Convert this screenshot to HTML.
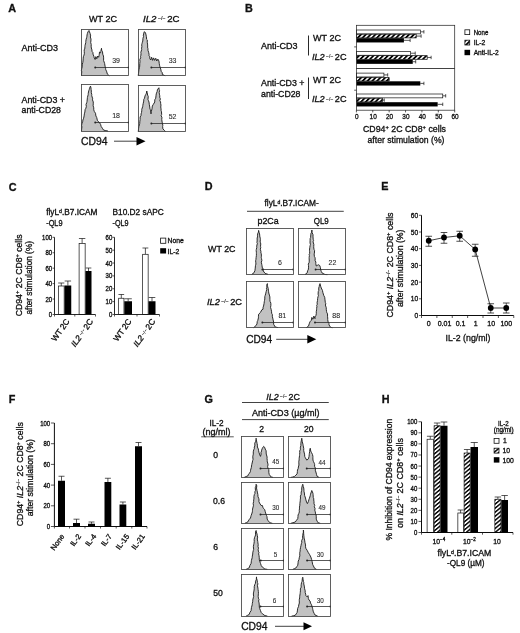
<!DOCTYPE html>
<html lang="en">
<head>
<meta charset="utf-8">
<title>Figure</title>
<style>
html,body{margin:0;padding:0;background:#fff;}
body{width:520px;height:633px;overflow:hidden;}
svg{display:block;filter:blur(0.35px);font-family:"Liberation Sans",Arial,Helvetica,sans-serif;}
svg text{fill:#111;stroke:#111;stroke-width:0.32px;}
</style>
</head>
<body>
<svg width="520" height="633" viewBox="0 0 520 633">
<defs>
<pattern id="hz" width="3.4" height="3.4" patternUnits="userSpaceOnUse" patternTransform="rotate(45)">
<rect width="3.4" height="3.4" fill="#fff"/>
<rect x="0" y="0" width="1.8" height="3.4" fill="#000"/>
</pattern>
<pattern id="hz2" width="3.1" height="3.1" patternUnits="userSpaceOnUse" patternTransform="rotate(50)">
<rect width="3.1" height="3.1" fill="#fff"/>
<rect x="0" y="0" width="1.45" height="3.1" fill="#000"/>
</pattern>
</defs>
<rect width="520" height="633" fill="#fff"/>
<text x="8.30" y="11.50" font-size="10.8" font-weight="bold" fill="#000">A</text>
<text x="89.00" y="22.00" font-size="9" textLength="28.00" lengthAdjust="spacingAndGlyphs">WT 2C</text>
<text x="143.00" y="22.00" font-size="9" textLength="36.50" lengthAdjust="spacingAndGlyphs"><tspan font-style="italic">IL2</tspan><tspan font-size="5.0" dy="-1.8" style="stroke-width:0.12px"> −/− </tspan><tspan dy="1.8">2C</tspan></text>
<text x="21.50" y="51.00" font-size="9" textLength="36.50" lengthAdjust="spacingAndGlyphs">Anti-CD3</text>
<text x="21.50" y="102.50" font-size="9" textLength="43.50" lengthAdjust="spacingAndGlyphs">Anti-CD3 +</text>
<text x="21.50" y="112.70" font-size="9" textLength="39.50" lengthAdjust="spacingAndGlyphs">anti-CD28</text>
<path d="M81.50,75.75 L81.56,73.94 L81.78,71.82 L81.39,70.42 L81.75,68.50 L82.30,66.31 L82.17,64.91 L82.76,62.63 L83.00,61.00 L83.17,58.89 L83.35,56.74 L83.76,55.96 L84.33,53.81 L84.25,51.62 L84.17,49.87 L84.73,49.02 L84.94,46.69 L85.02,45.51 L85.77,42.59 L85.75,41.62 L86.17,39.20 L86.64,37.74 L86.85,36.80 L87.04,34.97 L87.38,33.50 L87.96,31.87 L89.00,30.50 L89.22,31.22 L90.12,33.50 L90.66,35.92 L90.31,36.97 L91.01,39.08 L90.88,41.00 L90.69,42.63 L91.23,44.43 L91.16,46.19 L91.33,48.02 L91.75,49.12 L92.13,51.57 L92.87,52.41 L93.00,54.12 L93.86,56.29 L94.25,57.88 L95.12,59.50 L95.88,56.62 L96.75,58.75 L97.75,56.00 L98.62,57.25 L99.09,55.63 L99.27,54.26 L99.50,52.00 L100.50,52.88 L100.85,51.32 L101.50,48.25 L101.66,50.26 L102.50,51.62 L102.75,54.26 L103.46,55.98 L103.62,57.88 L103.58,60.55 L104.15,62.05 L104.62,63.50 L105.05,66.17 L105.59,68.36 L105.75,69.75 L106.52,71.18 L107.38,74.12 L109.25,75.75 Z" fill="#c2c2c2" stroke="none"/>
<path d="M81.50,75.75 L81.56,73.94 L81.78,71.82 L81.39,70.42 L81.75,68.50 L82.30,66.31 L82.17,64.91 L82.76,62.63 L83.00,61.00 L83.17,58.89 L83.35,56.74 L83.76,55.96 L84.33,53.81 L84.25,51.62 L84.17,49.87 L84.73,49.02 L84.94,46.69 L85.02,45.51 L85.77,42.59 L85.75,41.62 L86.17,39.20 L86.64,37.74 L86.85,36.80 L87.04,34.97 L87.38,33.50 L87.96,31.87 L89.00,30.50 L89.22,31.22 L90.12,33.50 L90.66,35.92 L90.31,36.97 L91.01,39.08 L90.88,41.00 L90.69,42.63 L91.23,44.43 L91.16,46.19 L91.33,48.02 L91.75,49.12 L92.13,51.57 L92.87,52.41 L93.00,54.12 L93.86,56.29 L94.25,57.88 L95.12,59.50 L95.88,56.62 L96.75,58.75 L97.75,56.00 L98.62,57.25 L99.09,55.63 L99.27,54.26 L99.50,52.00 L100.50,52.88 L100.85,51.32 L101.50,48.25 L101.66,50.26 L102.50,51.62 L102.75,54.26 L103.46,55.98 L103.62,57.88 L103.58,60.55 L104.15,62.05 L104.62,63.50 L105.05,66.17 L105.59,68.36 L105.75,69.75 L106.52,71.18 L107.38,74.12 L109.25,75.75" fill="none" stroke="#222" stroke-width="0.95" stroke-linejoin="round"/>
<rect x="81.50" y="29.50" width="47.00" height="46.00" fill="none" stroke="#444" stroke-width="0.85"/>
<line x1="95.25" y1="67.50" x2="128.60" y2="67.50" stroke="#222" stroke-width="0.75"/>
<circle cx="95.25" cy="67.50" r="1.0" fill="#222"/>
<line x1="128.30" y1="66.50" x2="128.30" y2="68.50" stroke="#222" stroke-width="0.6"/>
<text x="116.12" y="62.52" font-size="7" text-anchor="middle" style="fill:#2a2a2a;stroke-width:0.08px">39</text>
<path d="M138.25,75.75 L138.50,73.38 L138.75,71.00 L138.86,69.85 L139.51,67.39 L139.69,66.07 L139.75,63.50 L140.00,61.77 L139.82,59.44 L140.73,57.77 L140.50,56.55 L140.90,55.24 L141.00,53.50 L140.84,52.39 L141.70,49.49 L141.54,48.85 L141.86,46.54 L141.71,44.82 L142.06,43.42 L142.38,42.25 L142.78,41.04 L142.96,38.34 L143.57,36.36 L143.31,35.91 L143.91,32.70 L144.12,31.75 L145.38,32.50 L145.82,33.98 L146.38,36.62 L146.63,39.28 L147.29,39.92 L147.25,42.25 L147.54,44.05 L147.63,45.06 L147.64,47.98 L147.87,48.28 L148.01,50.46 L148.62,52.25 L149.06,54.31 L149.03,55.64 L149.83,56.80 L149.88,58.75 L150.75,60.00 L151.62,57.25 L152.21,59.01 L152.62,60.38 L153.62,57.88 L154.62,60.38 L155.75,58.25 L156.75,61.00 L157.88,59.12 L158.91,60.94 L159.25,63.50 L159.53,65.23 L160.08,67.24 L160.75,69.12 L161.18,71.36 L162.20,72.58 L162.38,74.50 L165.12,75.75 Z" fill="#c2c2c2" stroke="none"/>
<path d="M138.25,75.75 L138.50,73.38 L138.75,71.00 L138.86,69.85 L139.51,67.39 L139.69,66.07 L139.75,63.50 L140.00,61.77 L139.82,59.44 L140.73,57.77 L140.50,56.55 L140.90,55.24 L141.00,53.50 L140.84,52.39 L141.70,49.49 L141.54,48.85 L141.86,46.54 L141.71,44.82 L142.06,43.42 L142.38,42.25 L142.78,41.04 L142.96,38.34 L143.57,36.36 L143.31,35.91 L143.91,32.70 L144.12,31.75 L145.38,32.50 L145.82,33.98 L146.38,36.62 L146.63,39.28 L147.29,39.92 L147.25,42.25 L147.54,44.05 L147.63,45.06 L147.64,47.98 L147.87,48.28 L148.01,50.46 L148.62,52.25 L149.06,54.31 L149.03,55.64 L149.83,56.80 L149.88,58.75 L150.75,60.00 L151.62,57.25 L152.21,59.01 L152.62,60.38 L153.62,57.88 L154.62,60.38 L155.75,58.25 L156.75,61.00 L157.88,59.12 L158.91,60.94 L159.25,63.50 L159.53,65.23 L160.08,67.24 L160.75,69.12 L161.18,71.36 L162.20,72.58 L162.38,74.50 L165.12,75.75" fill="none" stroke="#222" stroke-width="0.95" stroke-linejoin="round"/>
<rect x="138.50" y="29.50" width="47.00" height="46.00" fill="none" stroke="#444" stroke-width="0.85"/>
<line x1="151.38" y1="67.50" x2="185.50" y2="67.50" stroke="#222" stroke-width="0.75"/>
<circle cx="151.38" cy="67.50" r="1.0" fill="#222"/>
<line x1="185.20" y1="66.50" x2="185.20" y2="68.50" stroke="#222" stroke-width="0.6"/>
<text x="172.62" y="62.52" font-size="7" text-anchor="middle" style="fill:#2a2a2a;stroke-width:0.08px">33</text>
<path d="M81.50,131.10 L81.62,129.16 L81.90,126.88 L81.58,125.33 L82.00,123.25 L82.78,121.26 L82.88,120.08 L83.62,118.25 L84.11,115.93 L84.37,113.85 L84.88,112.00 L85.10,109.62 L85.64,108.84 L86.33,106.68 L86.05,104.41 L86.75,102.62 L87.03,101.48 L87.29,98.94 L87.42,97.55 L88.22,94.42 L88.25,93.25 L88.76,90.79 L89.32,89.28 L89.50,88.25 L90.50,86.12 L90.94,87.86 L91.12,89.50 L91.32,91.02 L91.32,92.70 L91.75,94.50 L91.71,95.59 L92.69,98.80 L92.46,99.84 L93.27,101.95 L93.25,103.88 L93.14,105.75 L93.75,107.81 L93.76,109.81 L94.25,111.38 L95.50,113.25 L95.88,115.95 L96.75,117.62 L97.34,120.27 L98.00,121.38 L99.50,122.62 L100.60,124.45 L101.12,126.38 L102.38,128.25 L103.62,130.12 L105.81,130.62 L108.00,131.10 Z" fill="#c2c2c2" stroke="none"/>
<path d="M81.50,131.10 L81.62,129.16 L81.90,126.88 L81.58,125.33 L82.00,123.25 L82.78,121.26 L82.88,120.08 L83.62,118.25 L84.11,115.93 L84.37,113.85 L84.88,112.00 L85.10,109.62 L85.64,108.84 L86.33,106.68 L86.05,104.41 L86.75,102.62 L87.03,101.48 L87.29,98.94 L87.42,97.55 L88.22,94.42 L88.25,93.25 L88.76,90.79 L89.32,89.28 L89.50,88.25 L90.50,86.12 L90.94,87.86 L91.12,89.50 L91.32,91.02 L91.32,92.70 L91.75,94.50 L91.71,95.59 L92.69,98.80 L92.46,99.84 L93.27,101.95 L93.25,103.88 L93.14,105.75 L93.75,107.81 L93.76,109.81 L94.25,111.38 L95.50,113.25 L95.88,115.95 L96.75,117.62 L97.34,120.27 L98.00,121.38 L99.50,122.62 L100.60,124.45 L101.12,126.38 L102.38,128.25 L103.62,130.12 L105.81,130.62 L108.00,131.10" fill="none" stroke="#222" stroke-width="0.95" stroke-linejoin="round"/>
<rect x="81.50" y="84.50" width="47.00" height="47.00" fill="none" stroke="#444" stroke-width="0.85"/>
<line x1="95.25" y1="122.50" x2="128.60" y2="122.50" stroke="#222" stroke-width="0.75"/>
<circle cx="95.25" cy="122.50" r="1.0" fill="#222"/>
<line x1="128.30" y1="121.50" x2="128.30" y2="123.50" stroke="#222" stroke-width="0.6"/>
<text x="116.12" y="118.02" font-size="7" text-anchor="middle" style="fill:#2a2a2a;stroke-width:0.08px">18</text>
<path d="M138.25,131.70 L138.46,129.96 L138.52,128.89 L138.88,126.38 L139.45,124.80 L139.69,123.64 L139.86,121.16 L140.12,119.50 L140.10,117.03 L141.13,115.27 L141.02,113.97 L141.53,112.57 L141.75,110.75 L141.77,109.37 L142.81,106.21 L142.83,105.30 L143.25,103.25 L143.74,101.05 L143.81,99.27 L144.50,98.25 L145.00,95.93 L145.75,94.50 L146.36,93.29 L146.75,91.00 L147.19,92.66 L147.62,95.12 L148.24,96.36 L147.97,99.54 L148.50,100.75 L148.99,102.04 L149.28,104.34 L149.75,107.00 L150.03,109.50 L150.71,109.98 L150.74,112.29 L151.00,113.88 L151.26,111.69 L151.37,111.27 L152.00,108.88 L152.33,106.05 L153.25,104.50 L154.75,102.00 L154.78,99.79 L155.71,98.26 L156.00,95.75 L156.24,93.89 L157.19,91.42 L157.38,89.75 L158.88,87.75 L159.13,89.55 L159.57,90.58 L159.18,92.41 L159.40,94.14 L159.75,95.75 L159.78,97.80 L160.40,98.84 L159.81,100.79 L160.58,101.92 L160.67,103.66 L160.97,105.05 L160.75,107.00 L161.04,108.85 L161.09,110.54 L161.50,111.85 L161.64,114.61 L161.07,115.75 L161.93,117.19 L161.75,119.50 L162.11,122.12 L162.41,123.26 L162.82,125.30 L162.61,126.41 L162.88,128.88 L164.31,130.31 L165.75,131.70 Z" fill="#c2c2c2" stroke="none"/>
<path d="M138.25,131.70 L138.46,129.96 L138.52,128.89 L138.88,126.38 L139.45,124.80 L139.69,123.64 L139.86,121.16 L140.12,119.50 L140.10,117.03 L141.13,115.27 L141.02,113.97 L141.53,112.57 L141.75,110.75 L141.77,109.37 L142.81,106.21 L142.83,105.30 L143.25,103.25 L143.74,101.05 L143.81,99.27 L144.50,98.25 L145.00,95.93 L145.75,94.50 L146.36,93.29 L146.75,91.00 L147.19,92.66 L147.62,95.12 L148.24,96.36 L147.97,99.54 L148.50,100.75 L148.99,102.04 L149.28,104.34 L149.75,107.00 L150.03,109.50 L150.71,109.98 L150.74,112.29 L151.00,113.88 L151.26,111.69 L151.37,111.27 L152.00,108.88 L152.33,106.05 L153.25,104.50 L154.75,102.00 L154.78,99.79 L155.71,98.26 L156.00,95.75 L156.24,93.89 L157.19,91.42 L157.38,89.75 L158.88,87.75 L159.13,89.55 L159.57,90.58 L159.18,92.41 L159.40,94.14 L159.75,95.75 L159.78,97.80 L160.40,98.84 L159.81,100.79 L160.58,101.92 L160.67,103.66 L160.97,105.05 L160.75,107.00 L161.04,108.85 L161.09,110.54 L161.50,111.85 L161.64,114.61 L161.07,115.75 L161.93,117.19 L161.75,119.50 L162.11,122.12 L162.41,123.26 L162.82,125.30 L162.61,126.41 L162.88,128.88 L164.31,130.31 L165.75,131.70" fill="none" stroke="#222" stroke-width="0.95" stroke-linejoin="round"/>
<rect x="138.50" y="85.50" width="47.00" height="46.00" fill="none" stroke="#444" stroke-width="0.85"/>
<line x1="151.38" y1="123.50" x2="185.50" y2="123.50" stroke="#222" stroke-width="0.75"/>
<circle cx="151.38" cy="123.50" r="1.0" fill="#222"/>
<line x1="185.20" y1="122.50" x2="185.20" y2="124.50" stroke="#222" stroke-width="0.6"/>
<text x="172.62" y="118.52" font-size="7" text-anchor="middle" style="fill:#2a2a2a;stroke-width:0.08px">52</text>
<text x="81.00" y="145.00" font-size="10.8" textLength="26.50" lengthAdjust="spacingAndGlyphs">CD94</text>
<line x1="114.00" y1="141.20" x2="137.50" y2="141.20" stroke="#111" stroke-width="0.8"/>
<polygon points="136.50,136.90 145.50,141.20 136.50,145.50" fill="#000"/>
<text x="245.00" y="11.50" font-size="10.8" font-weight="bold" fill="#000">B</text>
<text x="261.00" y="49.00" font-size="9" textLength="36.50" lengthAdjust="spacingAndGlyphs">Anti-CD3</text>
<text x="261.00" y="85.50" font-size="9" textLength="43.50" lengthAdjust="spacingAndGlyphs">Anti-CD3 +</text>
<text x="261.00" y="97.00" font-size="9" textLength="39.50" lengthAdjust="spacingAndGlyphs">anti-CD28</text>
<line x1="308.50" y1="35.50" x2="308.50" y2="55.50" stroke="#111" stroke-width="0.9"/>
<line x1="308.50" y1="77.50" x2="308.50" y2="99.00" stroke="#111" stroke-width="0.9"/>
<text x="313.00" y="40.70" font-size="9" textLength="28.00" lengthAdjust="spacingAndGlyphs">WT 2C</text>
<text x="312.00" y="59.60" font-size="9" textLength="34.50" lengthAdjust="spacingAndGlyphs"><tspan font-style="italic">IL2</tspan><tspan font-size="5.0" dy="-1.8" style="stroke-width:0.12px"> −/− </tspan><tspan dy="1.8">2C</tspan></text>
<text x="313.00" y="83.20" font-size="9" textLength="28.00" lengthAdjust="spacingAndGlyphs">WT 2C</text>
<text x="312.00" y="102.30" font-size="9" textLength="34.50" lengthAdjust="spacingAndGlyphs"><tspan font-style="italic">IL2</tspan><tspan font-size="5.0" dy="-1.8" style="stroke-width:0.12px"> −/− </tspan><tspan dy="1.8">2C</tspan></text>
<line x1="420.62" y1="31.82" x2="423.90" y2="31.82" stroke="#111" stroke-width="0.7"/>
<line x1="423.90" y1="30.12" x2="423.90" y2="33.52" stroke="#111" stroke-width="0.7"/>
<rect x="356.40" y="30.00" width="64.22" height="3.85" fill="#fff" stroke="#111" stroke-width="0.7"/>
<line x1="416.20" y1="36.08" x2="421.11" y2="36.08" stroke="#111" stroke-width="0.7"/>
<line x1="421.11" y1="34.38" x2="421.11" y2="37.78" stroke="#111" stroke-width="0.7"/>
<rect x="356.40" y="34.25" width="59.80" height="3.65" fill="url(#hz)" stroke="#111" stroke-width="0.7"/>
<line x1="403.91" y1="40.33" x2="410.14" y2="40.33" stroke="#111" stroke-width="0.7"/>
<line x1="410.14" y1="38.62" x2="410.14" y2="42.03" stroke="#111" stroke-width="0.7"/>
<rect x="356.40" y="38.20" width="47.51" height="4.25" fill="#000" stroke="none" stroke-width="0.75"/>
<line x1="410.63" y1="53.23" x2="415.22" y2="53.23" stroke="#111" stroke-width="0.7"/>
<line x1="415.22" y1="51.52" x2="415.22" y2="54.93" stroke="#111" stroke-width="0.7"/>
<rect x="356.40" y="51.40" width="54.23" height="3.85" fill="#fff" stroke="#111" stroke-width="0.7"/>
<line x1="427.18" y1="57.48" x2="431.11" y2="57.48" stroke="#111" stroke-width="0.7"/>
<line x1="431.11" y1="55.77" x2="431.11" y2="59.18" stroke="#111" stroke-width="0.7"/>
<rect x="356.40" y="55.65" width="70.78" height="3.65" fill="url(#hz)" stroke="#111" stroke-width="0.7"/>
<line x1="412.76" y1="61.73" x2="415.71" y2="61.73" stroke="#111" stroke-width="0.7"/>
<line x1="415.71" y1="60.02" x2="415.71" y2="63.43" stroke="#111" stroke-width="0.7"/>
<rect x="356.40" y="59.60" width="56.36" height="4.25" fill="#000" stroke="none" stroke-width="0.75"/>
<line x1="383.92" y1="74.92" x2="387.69" y2="74.92" stroke="#111" stroke-width="0.7"/>
<line x1="387.69" y1="73.22" x2="387.69" y2="76.62" stroke="#111" stroke-width="0.7"/>
<rect x="356.40" y="73.10" width="27.52" height="3.85" fill="#fff" stroke="#111" stroke-width="0.7"/>
<line x1="388.84" y1="79.17" x2="389.17" y2="79.17" stroke="#111" stroke-width="0.7"/>
<line x1="389.17" y1="77.47" x2="389.17" y2="80.88" stroke="#111" stroke-width="0.7"/>
<rect x="356.40" y="77.35" width="32.44" height="3.65" fill="url(#hz)" stroke="#111" stroke-width="0.7"/>
<line x1="420.29" y1="83.42" x2="423.90" y2="83.42" stroke="#111" stroke-width="0.7"/>
<line x1="423.90" y1="81.72" x2="423.90" y2="85.12" stroke="#111" stroke-width="0.7"/>
<rect x="356.40" y="81.30" width="63.90" height="4.25" fill="#000" stroke="none" stroke-width="0.75"/>
<line x1="442.74" y1="95.83" x2="445.69" y2="95.83" stroke="#111" stroke-width="0.7"/>
<line x1="445.69" y1="94.12" x2="445.69" y2="97.53" stroke="#111" stroke-width="0.7"/>
<rect x="356.40" y="94.00" width="86.34" height="3.85" fill="#fff" stroke="#111" stroke-width="0.7"/>
<line x1="382.61" y1="100.08" x2="384.25" y2="100.08" stroke="#111" stroke-width="0.7"/>
<line x1="384.25" y1="98.38" x2="384.25" y2="101.78" stroke="#111" stroke-width="0.7"/>
<rect x="356.40" y="98.25" width="26.21" height="3.65" fill="url(#hz)" stroke="#111" stroke-width="0.7"/>
<line x1="437.66" y1="104.33" x2="442.74" y2="104.33" stroke="#111" stroke-width="0.7"/>
<line x1="442.74" y1="102.62" x2="442.74" y2="106.03" stroke="#111" stroke-width="0.7"/>
<rect x="356.40" y="102.20" width="81.26" height="4.25" fill="#000" stroke="none" stroke-width="0.75"/>
<rect x="356.40" y="25.30" width="98.30" height="84.90" fill="none" stroke="#2a2a2a" stroke-width="0.75"/>
<line x1="356.40" y1="68.50" x2="454.70" y2="68.50" stroke="#111" stroke-width="0.8"/>
<line x1="354.20" y1="46.90" x2="356.40" y2="46.90" stroke="#111" stroke-width="0.7"/>
<line x1="354.20" y1="90.20" x2="356.40" y2="90.20" stroke="#111" stroke-width="0.7"/>
<line x1="356.40" y1="110.20" x2="356.40" y2="112.40" stroke="#111" stroke-width="0.7"/>
<text x="356.80" y="119.20" font-size="7" text-anchor="middle" textLength="3.58" lengthAdjust="spacingAndGlyphs">0</text>
<line x1="372.78" y1="110.20" x2="372.78" y2="112.40" stroke="#111" stroke-width="0.7"/>
<text x="373.18" y="119.20" font-size="7" text-anchor="middle" textLength="7.16" lengthAdjust="spacingAndGlyphs">10</text>
<line x1="389.17" y1="110.20" x2="389.17" y2="112.40" stroke="#111" stroke-width="0.7"/>
<text x="389.57" y="119.20" font-size="7" text-anchor="middle" textLength="7.16" lengthAdjust="spacingAndGlyphs">20</text>
<line x1="405.55" y1="110.20" x2="405.55" y2="112.40" stroke="#111" stroke-width="0.7"/>
<text x="405.95" y="119.20" font-size="7" text-anchor="middle" textLength="7.16" lengthAdjust="spacingAndGlyphs">30</text>
<line x1="421.93" y1="110.20" x2="421.93" y2="112.40" stroke="#111" stroke-width="0.7"/>
<text x="422.33" y="119.20" font-size="7" text-anchor="middle" textLength="7.16" lengthAdjust="spacingAndGlyphs">40</text>
<line x1="438.32" y1="110.20" x2="438.32" y2="112.40" stroke="#111" stroke-width="0.7"/>
<text x="438.72" y="119.20" font-size="7" text-anchor="middle" textLength="7.16" lengthAdjust="spacingAndGlyphs">50</text>
<line x1="454.70" y1="110.20" x2="454.70" y2="112.40" stroke="#111" stroke-width="0.7"/>
<text x="455.10" y="119.20" font-size="7" text-anchor="middle" textLength="7.16" lengthAdjust="spacingAndGlyphs">60</text>
<text x="363.00" y="132.00" font-size="9.2" textLength="83.00" lengthAdjust="spacingAndGlyphs">CD94<tspan font-size="6" dy="-3">+</tspan><tspan dy="3"> 2C CD8</tspan><tspan font-size="6" dy="-3">+</tspan><tspan dy="3"> cells</tspan></text>
<text x="367.50" y="143.00" font-size="9.2" textLength="77.00" lengthAdjust="spacingAndGlyphs">after stimulation (%)</text>
<rect x="464.90" y="29.80" width="4.80" height="4.80" fill="#fff" stroke="#111" stroke-width="0.8"/>
<rect x="464.90" y="40.20" width="4.80" height="4.80" fill="url(#hz)" stroke="#111" stroke-width="0.8"/>
<rect x="464.50" y="49.80" width="5.60" height="5.40" fill="#000" stroke="none" stroke-width="0.75"/>
<text x="473.70" y="34.60" font-size="6.8" textLength="14.60" lengthAdjust="spacingAndGlyphs">None</text>
<text x="473.70" y="45.00" font-size="6.8">IL-2</text>
<text x="473.70" y="55.00" font-size="6.8" textLength="25.00" lengthAdjust="spacingAndGlyphs">Anti-IL-2</text>
<text x="8.70" y="190.50" font-size="10.8" font-weight="bold" fill="#000">C</text>
<text x="46.20" y="215.20" font-size="8.3" textLength="51.20" lengthAdjust="spacingAndGlyphs">flyL<tspan font-size="5.2" dy="-2.2">d</tspan><tspan dy="2.2">.B7.ICAM</tspan></text>
<text x="46.20" y="226.00" font-size="8.3" textLength="16.30" lengthAdjust="spacingAndGlyphs">-QL9</text>
<text x="112.50" y="215.20" font-size="8.3" textLength="51.20" lengthAdjust="spacingAndGlyphs">B10.D2 sAPC</text>
<text x="112.50" y="226.00" font-size="8.3" textLength="16.00" lengthAdjust="spacingAndGlyphs">-QL9</text>
<text x="22.20" y="316.20" font-size="9.2" textLength="81.70" lengthAdjust="spacingAndGlyphs" transform="rotate(-90 22.20 316.20)">CD94<tspan font-size="6" dy="-3">+</tspan><tspan dy="3"> 2C CD8</tspan><tspan font-size="6" dy="-3">+</tspan><tspan dy="3"> cells</tspan></text>
<text x="32.20" y="314.50" font-size="9.2" textLength="73.50" lengthAdjust="spacingAndGlyphs" transform="rotate(-90 32.20 314.50)">after stimulation (%)</text>
<line x1="52.50" y1="314.50" x2="54.50" y2="314.50" stroke="#111" stroke-width="0.7"/>
<text x="52.10" y="317.00" font-size="6.7" text-anchor="end" textLength="3.35" lengthAdjust="spacingAndGlyphs">0</text>
<line x1="52.50" y1="299.06" x2="54.50" y2="299.06" stroke="#111" stroke-width="0.7"/>
<text x="52.10" y="301.56" font-size="6.7" text-anchor="end" textLength="6.71" lengthAdjust="spacingAndGlyphs">20</text>
<line x1="52.50" y1="283.62" x2="54.50" y2="283.62" stroke="#111" stroke-width="0.7"/>
<text x="52.10" y="286.12" font-size="6.7" text-anchor="end" textLength="6.71" lengthAdjust="spacingAndGlyphs">40</text>
<line x1="52.50" y1="268.18" x2="54.50" y2="268.18" stroke="#111" stroke-width="0.7"/>
<text x="52.10" y="270.68" font-size="6.7" text-anchor="end" textLength="6.71" lengthAdjust="spacingAndGlyphs">60</text>
<line x1="52.50" y1="252.74" x2="54.50" y2="252.74" stroke="#111" stroke-width="0.7"/>
<text x="52.10" y="255.24" font-size="6.7" text-anchor="end" textLength="6.71" lengthAdjust="spacingAndGlyphs">80</text>
<line x1="52.50" y1="237.30" x2="54.50" y2="237.30" stroke="#111" stroke-width="0.7"/>
<text x="52.10" y="239.80" font-size="6.7" text-anchor="end" textLength="10.06" lengthAdjust="spacingAndGlyphs">100</text>
<line x1="61.25" y1="286.00" x2="61.25" y2="283.00" stroke="#111" stroke-width="0.7"/>
<line x1="58.16" y1="283.00" x2="64.34" y2="283.00" stroke="#111" stroke-width="0.7"/>
<rect x="58.35" y="286.00" width="5.80" height="28.50" fill="#fff" stroke="#111" stroke-width="0.7"/>
<line x1="67.88" y1="285.50" x2="67.88" y2="281.00" stroke="#111" stroke-width="0.7"/>
<line x1="64.67" y1="281.00" x2="71.08" y2="281.00" stroke="#111" stroke-width="0.7"/>
<rect x="64.50" y="285.50" width="6.75" height="29.00" fill="#000" stroke="none" stroke-width="0.75"/>
<line x1="82.12" y1="243.50" x2="82.12" y2="238.50" stroke="#111" stroke-width="0.7"/>
<line x1="78.92" y1="238.50" x2="85.33" y2="238.50" stroke="#111" stroke-width="0.7"/>
<rect x="79.10" y="243.50" width="6.05" height="71.00" fill="#fff" stroke="#111" stroke-width="0.7"/>
<line x1="88.50" y1="271.00" x2="88.50" y2="268.00" stroke="#111" stroke-width="0.7"/>
<line x1="85.65" y1="268.00" x2="91.35" y2="268.00" stroke="#111" stroke-width="0.7"/>
<rect x="85.50" y="271.00" width="6.00" height="43.50" fill="#000" stroke="none" stroke-width="0.75"/>
<line x1="54.50" y1="237.30" x2="54.50" y2="314.50" stroke="#111" stroke-width="0.9"/>
<line x1="54.50" y1="314.50" x2="95.50" y2="314.50" stroke="#111" stroke-width="0.9"/>
<line x1="54.50" y1="314.50" x2="54.50" y2="316.50" stroke="#111" stroke-width="0.7"/>
<line x1="74.80" y1="314.50" x2="74.80" y2="316.50" stroke="#111" stroke-width="0.7"/>
<line x1="95.50" y1="314.50" x2="95.50" y2="316.50" stroke="#111" stroke-width="0.7"/>
<text x="70.00" y="321.30" font-size="8.2" text-anchor="end" transform="rotate(-55 70.00 321.30)">WT 2C</text>
<text x="93.60" y="321.30" font-size="8.2" text-anchor="end" textLength="32.00" lengthAdjust="spacingAndGlyphs" transform="rotate(-55 93.60 321.30)"><tspan font-style="italic">IL2</tspan><tspan font-size="4.6" dy="-1.6" style="stroke-width:0.12px"> −/− </tspan><tspan dy="1.6">2C</tspan></text>
<line x1="112.50" y1="314.50" x2="114.50" y2="314.50" stroke="#111" stroke-width="0.7"/>
<text x="112.30" y="317.00" font-size="6.7" text-anchor="end" textLength="3.35" lengthAdjust="spacingAndGlyphs">0</text>
<line x1="112.50" y1="301.63" x2="114.50" y2="301.63" stroke="#111" stroke-width="0.7"/>
<text x="112.30" y="304.13" font-size="6.7" text-anchor="end" textLength="6.71" lengthAdjust="spacingAndGlyphs">10</text>
<line x1="112.50" y1="288.77" x2="114.50" y2="288.77" stroke="#111" stroke-width="0.7"/>
<text x="112.30" y="291.27" font-size="6.7" text-anchor="end" textLength="6.71" lengthAdjust="spacingAndGlyphs">20</text>
<line x1="112.50" y1="275.90" x2="114.50" y2="275.90" stroke="#111" stroke-width="0.7"/>
<text x="112.30" y="278.40" font-size="6.7" text-anchor="end" textLength="6.71" lengthAdjust="spacingAndGlyphs">30</text>
<line x1="112.50" y1="263.03" x2="114.50" y2="263.03" stroke="#111" stroke-width="0.7"/>
<text x="112.30" y="265.53" font-size="6.7" text-anchor="end" textLength="6.71" lengthAdjust="spacingAndGlyphs">40</text>
<line x1="112.50" y1="250.17" x2="114.50" y2="250.17" stroke="#111" stroke-width="0.7"/>
<text x="112.30" y="252.67" font-size="6.7" text-anchor="end" textLength="6.71" lengthAdjust="spacingAndGlyphs">50</text>
<line x1="112.50" y1="237.30" x2="114.50" y2="237.30" stroke="#111" stroke-width="0.7"/>
<text x="112.30" y="239.80" font-size="6.7" text-anchor="end" textLength="6.71" lengthAdjust="spacingAndGlyphs">60</text>
<line x1="121.30" y1="298.25" x2="121.30" y2="294.50" stroke="#111" stroke-width="0.7"/>
<line x1="118.45" y1="294.50" x2="124.15" y2="294.50" stroke="#111" stroke-width="0.7"/>
<rect x="118.65" y="298.25" width="5.30" height="16.25" fill="#fff" stroke="#111" stroke-width="0.7"/>
<line x1="128.15" y1="301.25" x2="128.15" y2="298.75" stroke="#111" stroke-width="0.7"/>
<line x1="124.49" y1="298.75" x2="131.81" y2="298.75" stroke="#111" stroke-width="0.7"/>
<rect x="124.30" y="301.25" width="7.70" height="13.25" fill="#000" stroke="none" stroke-width="0.75"/>
<line x1="145.40" y1="254.30" x2="145.40" y2="248.00" stroke="#111" stroke-width="0.7"/>
<line x1="142.46" y1="248.00" x2="148.34" y2="248.00" stroke="#111" stroke-width="0.7"/>
<rect x="142.65" y="254.30" width="5.50" height="60.20" fill="#fff" stroke="#111" stroke-width="0.7"/>
<line x1="152.00" y1="301.25" x2="152.00" y2="297.50" stroke="#111" stroke-width="0.7"/>
<line x1="148.68" y1="297.50" x2="155.32" y2="297.50" stroke="#111" stroke-width="0.7"/>
<rect x="148.50" y="301.25" width="7.00" height="13.25" fill="#000" stroke="none" stroke-width="0.75"/>
<line x1="114.50" y1="237.30" x2="114.50" y2="314.50" stroke="#111" stroke-width="0.9"/>
<line x1="114.50" y1="314.50" x2="159.50" y2="314.50" stroke="#111" stroke-width="0.9"/>
<line x1="114.50" y1="314.50" x2="114.50" y2="316.50" stroke="#111" stroke-width="0.7"/>
<line x1="137.00" y1="314.50" x2="137.00" y2="316.50" stroke="#111" stroke-width="0.7"/>
<line x1="159.50" y1="314.50" x2="159.50" y2="316.50" stroke="#111" stroke-width="0.7"/>
<text x="132.00" y="321.30" font-size="8.2" text-anchor="end" transform="rotate(-55 132.00 321.30)">WT 2C</text>
<text x="155.80" y="321.30" font-size="8.2" text-anchor="end" textLength="32.00" lengthAdjust="spacingAndGlyphs" transform="rotate(-55 155.80 321.30)"><tspan font-style="italic">IL2</tspan><tspan font-size="4.6" dy="-1.6" style="stroke-width:0.12px"> −/− </tspan><tspan dy="1.6">2C</tspan></text>
<rect x="160.60" y="238.10" width="5.20" height="5.20" fill="#fff" stroke="#111" stroke-width="0.8"/>
<rect x="160.20" y="248.20" width="5.90" height="5.30" fill="#000" stroke="none" stroke-width="0.75"/>
<text x="167.50" y="243.20" font-size="6.8">None</text>
<text x="167.50" y="253.80" font-size="6.8">IL-2</text>
<text x="204.80" y="190.30" font-size="10.8" font-weight="bold" fill="#000">D</text>
<text x="264.50" y="206.00" font-size="8.6" textLength="54.20" lengthAdjust="spacingAndGlyphs">flyL<tspan font-size="5.2" dy="-2.2">d</tspan><tspan dy="2.2">.B7.ICAM-</tspan></text>
<line x1="247.00" y1="211.30" x2="343.75" y2="211.30" stroke="#111" stroke-width="0.8"/>
<text x="257.50" y="223.80" font-size="8.8" textLength="21.20" lengthAdjust="spacingAndGlyphs">p2Ca</text>
<text x="313.75" y="223.80" font-size="8.8" textLength="15.00" lengthAdjust="spacingAndGlyphs">QL9</text>
<text x="208.00" y="251.60" font-size="9" textLength="27.50" lengthAdjust="spacingAndGlyphs">WT 2C</text>
<text x="207.00" y="305.00" font-size="9" textLength="35.00" lengthAdjust="spacingAndGlyphs"><tspan font-style="italic">IL2</tspan><tspan font-size="5.0" dy="-1.8" style="stroke-width:0.12px"> −/− </tspan><tspan dy="1.8">2C</tspan></text>
<path d="M251.75,274.38 L254.00,272.75 L254.94,270.47 L255.25,268.12 L255.44,265.71 L255.93,264.04 L255.80,262.76 L255.63,260.75 L255.92,259.61 L256.12,257.50 L256.40,255.37 L256.40,253.69 L256.41,252.72 L256.18,250.58 L256.34,249.39 L256.75,247.50 L256.71,246.14 L257.38,243.19 L256.93,242.52 L257.17,240.97 L257.15,238.03 L257.50,236.88 L257.47,235.28 L257.80,233.23 L258.45,232.15 L258.62,230.38 L259.18,232.66 L259.75,235.00 L259.69,235.99 L260.36,238.66 L260.38,239.40 L260.10,242.21 L260.48,242.42 L260.75,244.03 L260.50,246.25 L260.77,247.27 L260.35,249.25 L260.96,251.69 L260.83,252.98 L261.29,253.72 L261.40,256.22 L261.25,257.50 L261.52,258.45 L261.87,260.54 L261.31,262.20 L261.74,264.30 L262.00,265.62 L262.30,267.84 L263.12,268.47 L263.25,271.00 L265.12,273.38 L268.00,274.38 Z" fill="#c2c2c2" stroke="none"/>
<path d="M251.75,274.38 L254.00,272.75 L254.94,270.47 L255.25,268.12 L255.44,265.71 L255.93,264.04 L255.80,262.76 L255.63,260.75 L255.92,259.61 L256.12,257.50 L256.40,255.37 L256.40,253.69 L256.41,252.72 L256.18,250.58 L256.34,249.39 L256.75,247.50 L256.71,246.14 L257.38,243.19 L256.93,242.52 L257.17,240.97 L257.15,238.03 L257.50,236.88 L257.47,235.28 L257.80,233.23 L258.45,232.15 L258.62,230.38 L259.18,232.66 L259.75,235.00 L259.69,235.99 L260.36,238.66 L260.38,239.40 L260.10,242.21 L260.48,242.42 L260.75,244.03 L260.50,246.25 L260.77,247.27 L260.35,249.25 L260.96,251.69 L260.83,252.98 L261.29,253.72 L261.40,256.22 L261.25,257.50 L261.52,258.45 L261.87,260.54 L261.31,262.20 L261.74,264.30 L262.00,265.62 L262.30,267.84 L263.12,268.47 L263.25,271.00 L265.12,273.38 L268.00,274.38" fill="none" stroke="#222" stroke-width="0.95" stroke-linejoin="round"/>
<rect x="246.50" y="228.50" width="47.00" height="46.00" fill="none" stroke="#444" stroke-width="0.85"/>
<line x1="262.38" y1="269.50" x2="293.20" y2="269.50" stroke="#222" stroke-width="0.75"/>
<circle cx="262.38" cy="269.50" r="1.0" fill="#222"/>
<line x1="292.90" y1="268.50" x2="292.90" y2="270.50" stroke="#222" stroke-width="0.6"/>
<text x="279.88" y="264.77" font-size="7" text-anchor="middle" style="fill:#2a2a2a;stroke-width:0.08px">6</text>
<path d="M305.00,274.60 L307.25,272.75 L307.54,270.84 L308.21,269.98 L308.54,267.82 L308.50,265.62 L308.27,264.08 L309.05,262.72 L309.25,261.11 L309.17,258.89 L309.15,257.61 L309.40,255.45 L309.06,254.84 L309.68,253.33 L309.62,251.25 L309.48,250.32 L309.79,247.43 L310.14,245.52 L310.44,244.60 L310.04,242.99 L310.08,240.38 L310.16,238.49 L310.62,237.50 L310.81,234.91 L311.04,233.11 L311.59,232.29 L311.88,230.00 L312.04,231.90 L312.14,232.64 L313.03,234.73 L313.00,236.88 L313.19,239.28 L313.59,240.58 L313.06,241.79 L313.83,244.40 L313.74,246.36 L313.66,247.00 L314.00,249.38 L314.55,250.38 L314.43,253.11 L314.12,253.97 L314.42,256.56 L315.10,257.77 L315.16,258.87 L315.12,260.62 L315.88,262.06 L315.76,263.56 L316.25,266.00 L317.50,265.25 L318.75,264.75 L319.75,265.62 L320.33,267.30 L320.75,270.00 L321.32,271.53 L322.25,273.12 L325.00,274.50 L327.50,274.60 Z" fill="#c2c2c2" stroke="none"/>
<path d="M305.00,274.60 L307.25,272.75 L307.54,270.84 L308.21,269.98 L308.54,267.82 L308.50,265.62 L308.27,264.08 L309.05,262.72 L309.25,261.11 L309.17,258.89 L309.15,257.61 L309.40,255.45 L309.06,254.84 L309.68,253.33 L309.62,251.25 L309.48,250.32 L309.79,247.43 L310.14,245.52 L310.44,244.60 L310.04,242.99 L310.08,240.38 L310.16,238.49 L310.62,237.50 L310.81,234.91 L311.04,233.11 L311.59,232.29 L311.88,230.00 L312.04,231.90 L312.14,232.64 L313.03,234.73 L313.00,236.88 L313.19,239.28 L313.59,240.58 L313.06,241.79 L313.83,244.40 L313.74,246.36 L313.66,247.00 L314.00,249.38 L314.55,250.38 L314.43,253.11 L314.12,253.97 L314.42,256.56 L315.10,257.77 L315.16,258.87 L315.12,260.62 L315.88,262.06 L315.76,263.56 L316.25,266.00 L317.50,265.25 L318.75,264.75 L319.75,265.62 L320.33,267.30 L320.75,270.00 L321.32,271.53 L322.25,273.12 L325.00,274.50 L327.50,274.60" fill="none" stroke="#222" stroke-width="0.95" stroke-linejoin="round"/>
<rect x="298.50" y="228.50" width="47.00" height="46.00" fill="none" stroke="#444" stroke-width="0.85"/>
<line x1="315.62" y1="269.50" x2="345.50" y2="269.50" stroke="#222" stroke-width="0.75"/>
<circle cx="315.62" cy="269.50" r="1.0" fill="#222"/>
<line x1="345.20" y1="268.50" x2="345.20" y2="270.50" stroke="#222" stroke-width="0.6"/>
<text x="332.50" y="264.77" font-size="7" text-anchor="middle" style="fill:#2a2a2a;stroke-width:0.08px">22</text>
<path d="M253.62,327.60 L254.88,326.56 L256.12,325.50 L256.98,323.86 L257.26,321.52 L257.75,320.50 L258.43,317.87 L258.44,316.28 L258.62,314.25 L260.50,312.38 L261.75,309.88 L263.00,309.25 L263.10,307.20 L263.54,306.09 L264.07,303.53 L264.27,301.77 L264.50,300.50 L264.80,298.97 L264.79,296.75 L265.17,295.47 L265.64,293.91 L266.12,291.75 L266.76,289.36 L266.43,288.83 L266.79,287.43 L266.90,284.64 L267.38,283.62 L267.32,285.28 L267.62,286.48 L268.23,288.65 L268.37,290.10 L268.62,291.75 L268.77,293.01 L269.64,295.95 L269.87,296.95 L269.88,299.25 L270.01,301.70 L270.48,301.97 L270.86,303.64 L270.87,305.33 L270.55,307.37 L271.12,309.25 L271.58,311.75 L271.65,313.30 L272.31,314.30 L272.38,316.75 L272.94,318.96 L273.12,319.83 L273.63,322.17 L273.62,324.25 L275.25,327.00 L278.00,327.60 Z" fill="#c2c2c2" stroke="none"/>
<path d="M253.62,327.60 L254.88,326.56 L256.12,325.50 L256.98,323.86 L257.26,321.52 L257.75,320.50 L258.43,317.87 L258.44,316.28 L258.62,314.25 L260.50,312.38 L261.75,309.88 L263.00,309.25 L263.10,307.20 L263.54,306.09 L264.07,303.53 L264.27,301.77 L264.50,300.50 L264.80,298.97 L264.79,296.75 L265.17,295.47 L265.64,293.91 L266.12,291.75 L266.76,289.36 L266.43,288.83 L266.79,287.43 L266.90,284.64 L267.38,283.62 L267.32,285.28 L267.62,286.48 L268.23,288.65 L268.37,290.10 L268.62,291.75 L268.77,293.01 L269.64,295.95 L269.87,296.95 L269.88,299.25 L270.01,301.70 L270.48,301.97 L270.86,303.64 L270.87,305.33 L270.55,307.37 L271.12,309.25 L271.58,311.75 L271.65,313.30 L272.31,314.30 L272.38,316.75 L272.94,318.96 L273.12,319.83 L273.63,322.17 L273.62,324.25 L275.25,327.00 L278.00,327.60" fill="none" stroke="#222" stroke-width="0.95" stroke-linejoin="round"/>
<rect x="246.50" y="281.50" width="47.00" height="46.00" fill="none" stroke="#444" stroke-width="0.85"/>
<line x1="262.38" y1="322.50" x2="293.20" y2="322.50" stroke="#222" stroke-width="0.75"/>
<circle cx="262.38" cy="322.50" r="1.0" fill="#222"/>
<line x1="292.90" y1="321.50" x2="292.90" y2="323.50" stroke="#222" stroke-width="0.6"/>
<text x="282.38" y="317.77" font-size="7" text-anchor="middle" style="fill:#2a2a2a;stroke-width:0.08px">81</text>
<path d="M306.25,327.70 L308.50,326.12 L309.23,323.81 L310.00,321.75 L311.27,320.35 L311.88,317.38 L312.75,319.25 L313.61,318.10 L313.75,316.12 L315.00,318.62 L314.96,316.96 L315.92,315.48 L316.31,313.75 L316.25,311.75 L316.60,309.80 L316.63,308.50 L316.94,306.34 L316.64,305.72 L317.32,304.20 L317.05,302.89 L317.50,300.50 L317.63,298.45 L318.06,296.59 L318.44,295.73 L318.12,294.17 L318.25,291.61 L318.75,290.50 L318.72,288.06 L319.25,286.35 L319.48,284.70 L320.00,283.62 L320.65,286.22 L321.25,288.00 L322.50,290.50 L322.80,292.34 L323.04,293.04 L323.75,295.50 L324.69,297.27 L325.00,299.88 L325.29,302.37 L325.80,303.76 L325.38,305.06 L326.26,307.75 L326.25,309.25 L326.57,311.56 L326.65,312.16 L327.54,313.90 L327.56,316.77 L327.75,318.00 L327.70,319.49 L328.15,322.19 L328.99,323.52 L329.00,324.88 L330.62,327.38 L332.50,327.70 Z" fill="#c2c2c2" stroke="none"/>
<path d="M306.25,327.70 L308.50,326.12 L309.23,323.81 L310.00,321.75 L311.27,320.35 L311.88,317.38 L312.75,319.25 L313.61,318.10 L313.75,316.12 L315.00,318.62 L314.96,316.96 L315.92,315.48 L316.31,313.75 L316.25,311.75 L316.60,309.80 L316.63,308.50 L316.94,306.34 L316.64,305.72 L317.32,304.20 L317.05,302.89 L317.50,300.50 L317.63,298.45 L318.06,296.59 L318.44,295.73 L318.12,294.17 L318.25,291.61 L318.75,290.50 L318.72,288.06 L319.25,286.35 L319.48,284.70 L320.00,283.62 L320.65,286.22 L321.25,288.00 L322.50,290.50 L322.80,292.34 L323.04,293.04 L323.75,295.50 L324.69,297.27 L325.00,299.88 L325.29,302.37 L325.80,303.76 L325.38,305.06 L326.26,307.75 L326.25,309.25 L326.57,311.56 L326.65,312.16 L327.54,313.90 L327.56,316.77 L327.75,318.00 L327.70,319.49 L328.15,322.19 L328.99,323.52 L329.00,324.88 L330.62,327.38 L332.50,327.70" fill="none" stroke="#222" stroke-width="0.95" stroke-linejoin="round"/>
<rect x="298.50" y="281.50" width="47.00" height="46.00" fill="none" stroke="#444" stroke-width="0.85"/>
<line x1="315.00" y1="322.50" x2="345.50" y2="322.50" stroke="#222" stroke-width="0.75"/>
<circle cx="315.00" cy="322.50" r="1.0" fill="#222"/>
<line x1="345.20" y1="321.50" x2="345.20" y2="323.50" stroke="#222" stroke-width="0.6"/>
<text x="336.25" y="317.77" font-size="7" text-anchor="middle" style="fill:#2a2a2a;stroke-width:0.08px">88</text>
<text x="246.20" y="343.00" font-size="10.8" textLength="26.00" lengthAdjust="spacingAndGlyphs">CD94</text>
<line x1="276.20" y1="339.30" x2="308.30" y2="339.30" stroke="#111" stroke-width="0.8"/>
<polygon points="307.30,335.00 316.30,339.30 307.30,343.60" fill="#000"/>
<text x="381.20" y="190.30" font-size="10.8" font-weight="bold" fill="#000">E</text>
<text x="392.60" y="317.50" font-size="9.2" textLength="105.00" lengthAdjust="spacingAndGlyphs" transform="rotate(-90 392.60 317.50)">CD94<tspan font-size="6" dy="-3">+</tspan><tspan dy="3" font-style="italic"> IL2</tspan><tspan font-size="5.2" dy="-3" style="stroke-width:0.12px">−/−</tspan><tspan dy="3"> 2C CD8</tspan><tspan font-size="6" dy="-3">+</tspan><tspan dy="3"> cells</tspan></text>
<text x="402.80" y="307.00" font-size="9.2" textLength="77.50" lengthAdjust="spacingAndGlyphs" transform="rotate(-90 402.80 307.00)">after stimulation (%)</text>
<line x1="419.00" y1="315.50" x2="421.50" y2="315.50" stroke="#111" stroke-width="0.7"/>
<text x="418.20" y="318.10" font-size="7" text-anchor="end" textLength="3.70" lengthAdjust="spacingAndGlyphs">0</text>
<line x1="419.00" y1="298.80" x2="421.50" y2="298.80" stroke="#111" stroke-width="0.7"/>
<text x="418.20" y="301.40" font-size="7" text-anchor="end" textLength="7.39" lengthAdjust="spacingAndGlyphs">10</text>
<line x1="419.00" y1="282.10" x2="421.50" y2="282.10" stroke="#111" stroke-width="0.7"/>
<text x="418.20" y="284.70" font-size="7" text-anchor="end" textLength="7.39" lengthAdjust="spacingAndGlyphs">20</text>
<line x1="419.00" y1="265.40" x2="421.50" y2="265.40" stroke="#111" stroke-width="0.7"/>
<text x="418.20" y="268.00" font-size="7" text-anchor="end" textLength="7.39" lengthAdjust="spacingAndGlyphs">30</text>
<line x1="419.00" y1="248.70" x2="421.50" y2="248.70" stroke="#111" stroke-width="0.7"/>
<text x="418.20" y="251.30" font-size="7" text-anchor="end" textLength="7.39" lengthAdjust="spacingAndGlyphs">40</text>
<line x1="419.00" y1="232.00" x2="421.50" y2="232.00" stroke="#111" stroke-width="0.7"/>
<text x="418.20" y="234.60" font-size="7" text-anchor="end" textLength="7.39" lengthAdjust="spacingAndGlyphs">50</text>
<line x1="419.00" y1="215.30" x2="421.50" y2="215.30" stroke="#111" stroke-width="0.7"/>
<text x="418.20" y="217.90" font-size="7" text-anchor="end" textLength="7.39" lengthAdjust="spacingAndGlyphs">60</text>
<line x1="421.50" y1="215.30" x2="421.50" y2="315.50" stroke="#000" stroke-width="0.95"/>
<line x1="421.50" y1="315.50" x2="513.75" y2="315.50" stroke="#000" stroke-width="0.95"/>
<line x1="421.50" y1="315.50" x2="421.50" y2="318.00" stroke="#111" stroke-width="0.7"/>
<line x1="436.88" y1="315.50" x2="436.88" y2="318.00" stroke="#111" stroke-width="0.7"/>
<line x1="452.25" y1="315.50" x2="452.25" y2="318.00" stroke="#111" stroke-width="0.7"/>
<line x1="467.62" y1="315.50" x2="467.62" y2="318.00" stroke="#111" stroke-width="0.7"/>
<line x1="483.00" y1="315.50" x2="483.00" y2="318.00" stroke="#111" stroke-width="0.7"/>
<line x1="498.38" y1="315.50" x2="498.38" y2="318.00" stroke="#111" stroke-width="0.7"/>
<line x1="513.75" y1="315.50" x2="513.75" y2="318.00" stroke="#111" stroke-width="0.7"/>
<polyline points="428.75,240.75 444.00,237.50 459.70,235.75 475.20,249.50 490.75,308.00 506.25,308.00" fill="none" stroke="#111" stroke-width="0.8"/>
<line x1="428.75" y1="236.25" x2="428.75" y2="246.25" stroke="#111" stroke-width="0.7"/>
<line x1="425.45" y1="236.25" x2="432.05" y2="236.25" stroke="#111" stroke-width="0.75"/>
<line x1="425.45" y1="246.25" x2="432.05" y2="246.25" stroke="#111" stroke-width="0.75"/>
<circle cx="428.75" cy="240.75" r="2.9" fill="#000"/>
<line x1="444.00" y1="232.50" x2="444.00" y2="243.25" stroke="#111" stroke-width="0.7"/>
<line x1="440.70" y1="232.50" x2="447.30" y2="232.50" stroke="#111" stroke-width="0.75"/>
<line x1="440.70" y1="243.25" x2="447.30" y2="243.25" stroke="#111" stroke-width="0.75"/>
<circle cx="444.00" cy="237.50" r="2.9" fill="#000"/>
<line x1="459.70" y1="231.25" x2="459.70" y2="241.25" stroke="#111" stroke-width="0.7"/>
<line x1="456.40" y1="231.25" x2="463.00" y2="231.25" stroke="#111" stroke-width="0.75"/>
<line x1="456.40" y1="241.25" x2="463.00" y2="241.25" stroke="#111" stroke-width="0.75"/>
<circle cx="459.70" cy="235.75" r="2.9" fill="#000"/>
<line x1="475.20" y1="244.25" x2="475.20" y2="256.25" stroke="#111" stroke-width="0.7"/>
<line x1="471.90" y1="244.25" x2="478.50" y2="244.25" stroke="#111" stroke-width="0.75"/>
<line x1="471.90" y1="256.25" x2="478.50" y2="256.25" stroke="#111" stroke-width="0.75"/>
<circle cx="475.20" cy="249.50" r="2.9" fill="#000"/>
<line x1="490.75" y1="303.75" x2="490.75" y2="313.00" stroke="#111" stroke-width="0.7"/>
<line x1="487.45" y1="303.75" x2="494.05" y2="303.75" stroke="#111" stroke-width="0.75"/>
<line x1="487.45" y1="313.00" x2="494.05" y2="313.00" stroke="#111" stroke-width="0.75"/>
<circle cx="490.75" cy="308.00" r="2.9" fill="#000"/>
<line x1="506.25" y1="303.00" x2="506.25" y2="313.00" stroke="#111" stroke-width="0.7"/>
<line x1="502.95" y1="303.00" x2="509.55" y2="303.00" stroke="#111" stroke-width="0.75"/>
<line x1="502.95" y1="313.00" x2="509.55" y2="313.00" stroke="#111" stroke-width="0.75"/>
<circle cx="506.25" cy="308.00" r="2.9" fill="#000"/>
<text x="428.75" y="326.30" font-size="7" text-anchor="middle">0</text>
<text x="444.50" y="326.30" font-size="7" text-anchor="middle">0.01</text>
<text x="460.50" y="326.30" font-size="7" text-anchor="middle">0.1</text>
<text x="475.60" y="326.30" font-size="7" text-anchor="middle">1</text>
<text x="491.20" y="326.30" font-size="7" text-anchor="middle">10</text>
<text x="506.30" y="326.30" font-size="7" text-anchor="middle">100</text>
<text x="445.50" y="341.30" font-size="9.2" textLength="45.00" lengthAdjust="spacingAndGlyphs">IL-2 (ng/ml)</text>
<text x="8.70" y="403.00" font-size="10.8" font-weight="bold" fill="#000">F</text>
<text x="23.40" y="526.20" font-size="9.2" textLength="104.00" lengthAdjust="spacingAndGlyphs" transform="rotate(-90 23.40 526.20)">CD94<tspan font-size="6" dy="-3">+</tspan><tspan dy="3" font-style="italic"> IL2</tspan><tspan font-size="5.2" dy="-3" style="stroke-width:0.12px">−/−</tspan><tspan dy="3"> 2C CD8</tspan><tspan font-size="6" dy="-3">+</tspan><tspan dy="3"> cells</tspan></text>
<text x="32.90" y="516.20" font-size="9.2" textLength="77.00" lengthAdjust="spacingAndGlyphs" transform="rotate(-90 32.90 516.20)">after stimulation (%)</text>
<line x1="50.90" y1="526.50" x2="54.40" y2="526.50" stroke="#111" stroke-width="0.7"/>
<text x="50.20" y="529.00" font-size="6.8" text-anchor="end" textLength="3.33" lengthAdjust="spacingAndGlyphs">0</text>
<line x1="50.90" y1="505.80" x2="54.40" y2="505.80" stroke="#111" stroke-width="0.7"/>
<text x="50.20" y="508.30" font-size="6.8" text-anchor="end" textLength="6.65" lengthAdjust="spacingAndGlyphs">20</text>
<line x1="50.90" y1="485.10" x2="54.40" y2="485.10" stroke="#111" stroke-width="0.7"/>
<text x="50.20" y="487.60" font-size="6.8" text-anchor="end" textLength="6.65" lengthAdjust="spacingAndGlyphs">40</text>
<line x1="50.90" y1="464.40" x2="54.40" y2="464.40" stroke="#111" stroke-width="0.7"/>
<text x="50.20" y="466.90" font-size="6.8" text-anchor="end" textLength="6.65" lengthAdjust="spacingAndGlyphs">60</text>
<line x1="50.90" y1="443.70" x2="54.40" y2="443.70" stroke="#111" stroke-width="0.7"/>
<text x="50.20" y="446.20" font-size="6.8" text-anchor="end" textLength="6.65" lengthAdjust="spacingAndGlyphs">80</text>
<line x1="50.90" y1="423.00" x2="54.40" y2="423.00" stroke="#111" stroke-width="0.7"/>
<text x="50.20" y="425.50" font-size="6.8" text-anchor="end" textLength="9.98" lengthAdjust="spacingAndGlyphs">100</text>
<line x1="61.50" y1="480.75" x2="61.50" y2="476.25" stroke="#111" stroke-width="0.7"/>
<line x1="58.50" y1="476.25" x2="64.50" y2="476.25" stroke="#111" stroke-width="0.7"/>
<rect x="58.00" y="480.75" width="7.00" height="45.75" fill="#000" stroke="none" stroke-width="0.75"/>
<line x1="76.50" y1="523.00" x2="76.50" y2="519.20" stroke="#111" stroke-width="0.7"/>
<line x1="73.50" y1="519.20" x2="79.50" y2="519.20" stroke="#111" stroke-width="0.7"/>
<rect x="73.00" y="523.00" width="7.00" height="3.50" fill="#000" stroke="none" stroke-width="0.75"/>
<line x1="91.50" y1="523.75" x2="91.50" y2="522.00" stroke="#111" stroke-width="0.7"/>
<line x1="88.50" y1="522.00" x2="94.50" y2="522.00" stroke="#111" stroke-width="0.7"/>
<rect x="88.00" y="523.75" width="7.00" height="2.75" fill="#000" stroke="none" stroke-width="0.75"/>
<line x1="107.90" y1="482.00" x2="107.90" y2="478.25" stroke="#111" stroke-width="0.7"/>
<line x1="104.90" y1="478.25" x2="110.90" y2="478.25" stroke="#111" stroke-width="0.7"/>
<rect x="104.50" y="482.00" width="6.80" height="44.50" fill="#000" stroke="none" stroke-width="0.75"/>
<line x1="122.90" y1="504.50" x2="122.90" y2="502.00" stroke="#111" stroke-width="0.7"/>
<line x1="119.90" y1="502.00" x2="125.90" y2="502.00" stroke="#111" stroke-width="0.7"/>
<rect x="119.50" y="504.50" width="6.80" height="22.00" fill="#000" stroke="none" stroke-width="0.75"/>
<line x1="138.50" y1="446.25" x2="138.50" y2="442.50" stroke="#111" stroke-width="0.7"/>
<line x1="135.50" y1="442.50" x2="141.50" y2="442.50" stroke="#111" stroke-width="0.7"/>
<rect x="135.00" y="446.25" width="7.00" height="80.25" fill="#000" stroke="none" stroke-width="0.75"/>
<line x1="54.40" y1="423.00" x2="54.40" y2="526.50" stroke="#000" stroke-width="0.95"/>
<line x1="54.40" y1="526.50" x2="147.00" y2="526.50" stroke="#000" stroke-width="0.95"/>
<line x1="54.40" y1="526.50" x2="54.40" y2="528.50" stroke="#111" stroke-width="0.7"/>
<line x1="69.50" y1="526.50" x2="69.50" y2="528.50" stroke="#111" stroke-width="0.7"/>
<line x1="85.00" y1="526.50" x2="85.00" y2="528.50" stroke="#111" stroke-width="0.7"/>
<line x1="100.50" y1="526.50" x2="100.50" y2="528.50" stroke="#111" stroke-width="0.7"/>
<line x1="116.20" y1="526.50" x2="116.20" y2="528.50" stroke="#111" stroke-width="0.7"/>
<line x1="131.80" y1="526.50" x2="131.80" y2="528.50" stroke="#111" stroke-width="0.7"/>
<line x1="147.00" y1="526.50" x2="147.00" y2="528.50" stroke="#111" stroke-width="0.7"/>
<text x="64.80" y="536.40" font-size="7.5" text-anchor="end" transform="rotate(-54 64.80 536.40)">None</text>
<text x="81.50" y="536.40" font-size="7.5" text-anchor="end" transform="rotate(-54 81.50 536.40)">IL-2</text>
<text x="96.70" y="536.40" font-size="7.5" text-anchor="end" transform="rotate(-54 96.70 536.40)">IL-4</text>
<text x="112.30" y="536.40" font-size="7.5" text-anchor="end" transform="rotate(-54 112.30 536.40)">IL-7</text>
<text x="129.60" y="536.40" font-size="7.5" text-anchor="end" transform="rotate(-54 129.60 536.40)">IL-15</text>
<text x="145.30" y="536.40" font-size="7.5" text-anchor="end" transform="rotate(-54 145.30 536.40)">IL-21</text>
<text x="204.40" y="403.00" font-size="10.8" font-weight="bold" fill="#000">G</text>
<text x="266.20" y="399.50" font-size="9" textLength="33.80" lengthAdjust="spacingAndGlyphs"><tspan font-style="italic">IL2</tspan><tspan font-size="5.0" dy="-1.8" style="stroke-width:0.12px"> −/− </tspan><tspan dy="1.8">2C</tspan></text>
<line x1="242.00" y1="402.50" x2="328.75" y2="402.50" stroke="#111" stroke-width="0.8"/>
<text x="252.00" y="416.00" font-size="9" textLength="67.50" lengthAdjust="spacingAndGlyphs">Anti-CD3 (µg/ml)</text>
<line x1="242.00" y1="419.60" x2="328.75" y2="419.60" stroke="#111" stroke-width="0.8"/>
<text x="209.50" y="426.40" font-size="8.4" textLength="14.20" lengthAdjust="spacingAndGlyphs">IL-2</text>
<text x="202.50" y="434.70" font-size="8.4" textLength="28.00" lengthAdjust="spacingAndGlyphs">(ng/ml)</text>
<line x1="201.20" y1="436.80" x2="233.75" y2="436.80" stroke="#111" stroke-width="0.7"/>
<text x="261.60" y="432.20" font-size="8.6" text-anchor="middle">2</text>
<text x="308.70" y="432.20" font-size="8.6" text-anchor="middle">20</text>
<text x="215.60" y="458.20" font-size="8.6" text-anchor="middle">0</text>
<text x="219.00" y="504.30" font-size="8.6" text-anchor="middle">0.6</text>
<text x="215.60" y="550.20" font-size="8.6" text-anchor="middle">6</text>
<text x="218.00" y="596.40" font-size="8.6" text-anchor="middle">50</text>
<path d="M244.25,477.38 L246.12,476.56 L248.00,475.75 L248.56,474.19 L249.47,473.19 L250.50,471.38 L250.53,470.28 L251.37,467.38 L251.52,466.01 L251.78,464.53 L252.38,462.00 L252.67,460.52 L253.05,459.38 L252.77,456.86 L253.05,455.08 L253.30,454.18 L253.28,451.85 L253.72,449.81 L254.32,448.77 L254.25,447.00 L254.89,446.03 L254.78,443.11 L255.54,441.72 L256.14,439.53 L256.12,438.25 L256.19,439.64 L256.81,442.10 L257.07,443.46 L257.46,445.24 L257.38,447.00 L258.31,448.93 L258.62,450.75 L259.02,452.59 L259.89,455.05 L260.50,456.38 L261.12,454.14 L260.96,452.48 L261.59,451.03 L261.65,450.09 L262.38,448.25 L263.62,446.38 L264.88,447.62 L265.11,449.00 L266.12,450.75 L266.16,453.02 L266.25,454.05 L267.11,457.07 L267.00,458.25 L267.25,460.51 L267.09,460.94 L267.71,463.06 L268.06,464.86 L267.60,466.64 L268.00,468.25 L268.81,469.54 L268.85,472.73 L269.25,474.50 L271.12,477.00 L273.00,477.38 Z" fill="#c2c2c2" stroke="none"/>
<path d="M244.25,477.38 L246.12,476.56 L248.00,475.75 L248.56,474.19 L249.47,473.19 L250.50,471.38 L250.53,470.28 L251.37,467.38 L251.52,466.01 L251.78,464.53 L252.38,462.00 L252.67,460.52 L253.05,459.38 L252.77,456.86 L253.05,455.08 L253.30,454.18 L253.28,451.85 L253.72,449.81 L254.32,448.77 L254.25,447.00 L254.89,446.03 L254.78,443.11 L255.54,441.72 L256.14,439.53 L256.12,438.25 L256.19,439.64 L256.81,442.10 L257.07,443.46 L257.46,445.24 L257.38,447.00 L258.31,448.93 L258.62,450.75 L259.02,452.59 L259.89,455.05 L260.50,456.38 L261.12,454.14 L260.96,452.48 L261.59,451.03 L261.65,450.09 L262.38,448.25 L263.62,446.38 L264.88,447.62 L265.11,449.00 L266.12,450.75 L266.16,453.02 L266.25,454.05 L267.11,457.07 L267.00,458.25 L267.25,460.51 L267.09,460.94 L267.71,463.06 L268.06,464.86 L267.60,466.64 L268.00,468.25 L268.81,469.54 L268.85,472.73 L269.25,474.50 L271.12,477.00 L273.00,477.38" fill="none" stroke="#222" stroke-width="0.95" stroke-linejoin="round"/>
<rect x="241.50" y="436.50" width="42.00" height="41.00" fill="none" stroke="#444" stroke-width="0.85"/>
<line x1="260.50" y1="468.50" x2="283.70" y2="468.50" stroke="#222" stroke-width="0.75"/>
<circle cx="260.50" cy="468.50" r="1.0" fill="#222"/>
<line x1="283.40" y1="467.50" x2="283.40" y2="469.50" stroke="#222" stroke-width="0.6"/>
<text x="275.75" y="464.27" font-size="6.3" text-anchor="middle" style="fill:#2a2a2a;stroke-width:0.08px">45</text>
<path d="M290.88,477.40 L292.75,477.00 L294.62,476.38 L295.88,475.12 L297.12,473.88 L297.39,471.62 L297.47,470.04 L298.21,468.51 L298.38,467.00 L298.94,465.01 L298.83,462.82 L298.76,461.81 L299.14,459.91 L299.18,458.22 L299.56,455.57 L299.62,454.50 L299.81,452.23 L299.65,451.05 L300.53,449.24 L300.33,448.18 L300.40,447.16 L300.86,445.50 L300.88,443.25 L301.19,441.08 L301.43,440.14 L301.75,438.25 L302.17,441.09 L302.30,441.83 L303.00,444.50 L303.21,445.76 L303.75,448.60 L303.68,450.40 L304.00,452.00 L304.55,454.13 L304.74,456.53 L305.25,457.62 L306.75,460.12 L308.38,458.88 L309.04,456.47 L309.22,454.71 L309.38,453.25 L309.71,451.35 L309.84,449.43 L310.25,448.25 L310.73,451.04 L311.50,452.62 L312.50,454.50 L312.91,456.60 L312.87,457.79 L312.96,460.05 L313.38,461.38 L314.31,463.27 L314.62,464.50 L314.59,466.34 L315.50,468.41 L315.28,470.18 L315.88,472.00 L316.58,474.66 L317.12,476.38 L319.00,477.40 Z" fill="#c2c2c2" stroke="none"/>
<path d="M290.88,477.40 L292.75,477.00 L294.62,476.38 L295.88,475.12 L297.12,473.88 L297.39,471.62 L297.47,470.04 L298.21,468.51 L298.38,467.00 L298.94,465.01 L298.83,462.82 L298.76,461.81 L299.14,459.91 L299.18,458.22 L299.56,455.57 L299.62,454.50 L299.81,452.23 L299.65,451.05 L300.53,449.24 L300.33,448.18 L300.40,447.16 L300.86,445.50 L300.88,443.25 L301.19,441.08 L301.43,440.14 L301.75,438.25 L302.17,441.09 L302.30,441.83 L303.00,444.50 L303.21,445.76 L303.75,448.60 L303.68,450.40 L304.00,452.00 L304.55,454.13 L304.74,456.53 L305.25,457.62 L306.75,460.12 L308.38,458.88 L309.04,456.47 L309.22,454.71 L309.38,453.25 L309.71,451.35 L309.84,449.43 L310.25,448.25 L310.73,451.04 L311.50,452.62 L312.50,454.50 L312.91,456.60 L312.87,457.79 L312.96,460.05 L313.38,461.38 L314.31,463.27 L314.62,464.50 L314.59,466.34 L315.50,468.41 L315.28,470.18 L315.88,472.00 L316.58,474.66 L317.12,476.38 L319.00,477.40" fill="none" stroke="#222" stroke-width="0.95" stroke-linejoin="round"/>
<rect x="288.50" y="436.50" width="42.00" height="41.00" fill="none" stroke="#444" stroke-width="0.85"/>
<line x1="306.75" y1="468.50" x2="330.40" y2="468.50" stroke="#222" stroke-width="0.75"/>
<circle cx="306.75" cy="468.50" r="1.0" fill="#222"/>
<line x1="330.10" y1="467.50" x2="330.10" y2="469.50" stroke="#222" stroke-width="0.6"/>
<text x="322.12" y="464.89" font-size="6.3" text-anchor="middle" style="fill:#2a2a2a;stroke-width:0.08px">44</text>
<path d="M244.88,523.30 L246.44,522.56 L248.00,521.75 L248.98,519.77 L250.50,518.00 L250.77,516.79 L251.10,515.65 L252.02,513.06 L252.38,511.75 L252.48,510.35 L252.57,509.07 L253.09,506.94 L253.46,505.80 L253.18,503.28 L253.62,501.75 L253.68,499.83 L253.93,498.93 L253.90,496.60 L254.35,494.56 L254.95,493.52 L254.88,491.75 L255.45,490.66 L255.28,487.61 L255.98,486.09 L256.12,484.25 L256.81,485.87 L256.53,488.06 L257.00,490.50 L257.52,492.93 L257.86,494.63 L258.00,496.75 L258.71,498.30 L259.06,499.93 L258.89,501.40 L259.50,503.00 L261.12,505.50 L262.38,505.50 L263.01,507.61 L263.62,508.62 L264.68,509.57 L265.25,511.75 L265.58,512.98 L266.50,515.50 L266.97,516.69 L267.15,519.05 L268.00,520.50 L269.88,522.75 L272.38,523.30 Z" fill="#c2c2c2" stroke="none"/>
<path d="M244.88,523.30 L246.44,522.56 L248.00,521.75 L248.98,519.77 L250.50,518.00 L250.77,516.79 L251.10,515.65 L252.02,513.06 L252.38,511.75 L252.48,510.35 L252.57,509.07 L253.09,506.94 L253.46,505.80 L253.18,503.28 L253.62,501.75 L253.68,499.83 L253.93,498.93 L253.90,496.60 L254.35,494.56 L254.95,493.52 L254.88,491.75 L255.45,490.66 L255.28,487.61 L255.98,486.09 L256.12,484.25 L256.81,485.87 L256.53,488.06 L257.00,490.50 L257.52,492.93 L257.86,494.63 L258.00,496.75 L258.71,498.30 L259.06,499.93 L258.89,501.40 L259.50,503.00 L261.12,505.50 L262.38,505.50 L263.01,507.61 L263.62,508.62 L264.68,509.57 L265.25,511.75 L265.58,512.98 L266.50,515.50 L266.97,516.69 L267.15,519.05 L268.00,520.50 L269.88,522.75 L272.38,523.30" fill="none" stroke="#222" stroke-width="0.95" stroke-linejoin="round"/>
<rect x="241.50" y="482.50" width="42.00" height="41.00" fill="none" stroke="#444" stroke-width="0.85"/>
<line x1="260.50" y1="514.50" x2="283.70" y2="514.50" stroke="#222" stroke-width="0.75"/>
<circle cx="260.50" cy="514.50" r="1.0" fill="#222"/>
<line x1="283.40" y1="513.50" x2="283.40" y2="515.50" stroke="#222" stroke-width="0.6"/>
<text x="275.75" y="510.27" font-size="6.3" text-anchor="middle" style="fill:#2a2a2a;stroke-width:0.08px">30</text>
<path d="M290.88,523.30 L293.06,522.69 L295.25,522.00 L296.50,520.31 L297.75,518.62 L298.01,516.46 L298.07,514.97 L298.80,513.54 L299.34,511.92 L299.25,510.50 L299.52,508.10 L299.46,507.10 L299.83,505.19 L299.87,503.50 L300.26,500.85 L300.33,499.12 L300.50,498.00 L300.38,496.09 L301.28,494.23 L301.11,493.11 L301.22,492.03 L301.71,490.31 L301.75,488.00 L302.28,485.62 L302.75,484.25 L303.22,486.35 L303.75,488.00 L303.97,490.63 L303.91,491.16 L304.36,493.01 L304.62,495.50 L305.50,498.04 L305.88,499.88 L306.56,502.03 L307.38,503.62 L308.32,501.69 L309.00,499.25 L309.40,498.36 L310.34,495.39 L310.50,494.25 L311.30,491.96 L311.75,490.50 L312.42,491.83 L313.00,493.62 L313.08,494.76 L313.25,497.48 L313.80,498.88 L313.73,499.98 L314.00,501.75 L314.02,503.81 L314.72,505.41 L314.28,506.72 L315.08,508.57 L314.75,510.14 L315.25,511.75 L315.58,513.85 L316.09,514.77 L316.27,516.74 L316.25,518.92 L316.50,519.88 L317.25,521.31 L318.00,522.75 L320.25,523.30 Z" fill="#c2c2c2" stroke="none"/>
<path d="M290.88,523.30 L293.06,522.69 L295.25,522.00 L296.50,520.31 L297.75,518.62 L298.01,516.46 L298.07,514.97 L298.80,513.54 L299.34,511.92 L299.25,510.50 L299.52,508.10 L299.46,507.10 L299.83,505.19 L299.87,503.50 L300.26,500.85 L300.33,499.12 L300.50,498.00 L300.38,496.09 L301.28,494.23 L301.11,493.11 L301.22,492.03 L301.71,490.31 L301.75,488.00 L302.28,485.62 L302.75,484.25 L303.22,486.35 L303.75,488.00 L303.97,490.63 L303.91,491.16 L304.36,493.01 L304.62,495.50 L305.50,498.04 L305.88,499.88 L306.56,502.03 L307.38,503.62 L308.32,501.69 L309.00,499.25 L309.40,498.36 L310.34,495.39 L310.50,494.25 L311.30,491.96 L311.75,490.50 L312.42,491.83 L313.00,493.62 L313.08,494.76 L313.25,497.48 L313.80,498.88 L313.73,499.98 L314.00,501.75 L314.02,503.81 L314.72,505.41 L314.28,506.72 L315.08,508.57 L314.75,510.14 L315.25,511.75 L315.58,513.85 L316.09,514.77 L316.27,516.74 L316.25,518.92 L316.50,519.88 L317.25,521.31 L318.00,522.75 L320.25,523.30" fill="none" stroke="#222" stroke-width="0.95" stroke-linejoin="round"/>
<rect x="288.50" y="482.50" width="42.00" height="41.00" fill="none" stroke="#444" stroke-width="0.85"/>
<line x1="307.12" y1="514.50" x2="330.40" y2="514.50" stroke="#222" stroke-width="0.75"/>
<circle cx="307.12" cy="514.50" r="1.0" fill="#222"/>
<line x1="330.10" y1="513.50" x2="330.10" y2="515.50" stroke="#222" stroke-width="0.6"/>
<text x="322.12" y="510.27" font-size="6.3" text-anchor="middle" style="fill:#2a2a2a;stroke-width:0.08px">49</text>
<path d="M246.12,569.38 L247.69,568.56 L249.25,567.75 L249.92,565.46 L251.12,563.38 L251.25,561.86 L251.43,560.40 L252.22,557.50 L252.32,556.14 L252.75,554.00 L252.74,552.87 L253.27,550.62 L253.65,549.36 L253.37,546.72 L253.66,544.81 L253.92,543.80 L254.25,541.50 L254.15,539.47 L254.64,537.23 L255.28,535.97 L255.51,534.78 L255.50,532.12 L256.12,530.50 L256.34,531.86 L257.00,534.00 L257.31,535.75 L257.68,537.11 L257.25,539.00 L257.76,541.49 L257.91,542.89 L258.19,544.70 L258.00,546.50 L258.49,548.16 L258.13,549.68 L258.55,551.87 L258.96,552.32 L258.60,553.89 L259.04,555.67 L259.25,557.75 L259.32,559.84 L259.69,561.31 L260.50,563.38 L261.26,565.65 L262.38,567.12 L264.88,569.00 L267.38,569.38 Z" fill="#c2c2c2" stroke="none"/>
<path d="M246.12,569.38 L247.69,568.56 L249.25,567.75 L249.92,565.46 L251.12,563.38 L251.25,561.86 L251.43,560.40 L252.22,557.50 L252.32,556.14 L252.75,554.00 L252.74,552.87 L253.27,550.62 L253.65,549.36 L253.37,546.72 L253.66,544.81 L253.92,543.80 L254.25,541.50 L254.15,539.47 L254.64,537.23 L255.28,535.97 L255.51,534.78 L255.50,532.12 L256.12,530.50 L256.34,531.86 L257.00,534.00 L257.31,535.75 L257.68,537.11 L257.25,539.00 L257.76,541.49 L257.91,542.89 L258.19,544.70 L258.00,546.50 L258.49,548.16 L258.13,549.68 L258.55,551.87 L258.96,552.32 L258.60,553.89 L259.04,555.67 L259.25,557.75 L259.32,559.84 L259.69,561.31 L260.50,563.38 L261.26,565.65 L262.38,567.12 L264.88,569.00 L267.38,569.38" fill="none" stroke="#222" stroke-width="0.95" stroke-linejoin="round"/>
<rect x="241.50" y="528.50" width="42.00" height="41.00" fill="none" stroke="#444" stroke-width="0.85"/>
<line x1="260.75" y1="560.50" x2="283.70" y2="560.50" stroke="#222" stroke-width="0.75"/>
<circle cx="260.75" cy="560.50" r="1.0" fill="#222"/>
<line x1="283.40" y1="559.50" x2="283.40" y2="561.50" stroke="#222" stroke-width="0.6"/>
<text x="275.50" y="556.64" font-size="6.3" text-anchor="middle" style="fill:#2a2a2a;stroke-width:0.08px">5</text>
<path d="M292.75,569.38 L294.31,568.69 L295.88,568.00 L296.81,566.62 L297.75,565.25 L298.08,562.84 L298.22,561.10 L299.03,559.41 L299.25,557.75 L299.84,555.88 L299.76,553.80 L299.73,552.92 L300.13,551.14 L300.20,549.56 L300.50,547.75 L301.03,545.36 L301.34,543.76 L301.75,542.75 L301.67,540.63 L302.62,538.56 L302.49,537.23 L302.75,535.25 L302.84,534.20 L303.33,532.39 L303.38,530.00 L303.56,531.12 L303.66,533.47 L303.85,535.63 L304.00,536.50 L304.05,537.99 L304.62,540.05 L305.00,542.75 L305.55,544.98 L305.52,546.78 L305.88,548.38 L307.12,550.25 L308.38,552.75 L309.62,554.62 L310.88,557.12 L311.63,559.57 L312.12,561.50 L312.65,564.46 L313.38,565.88 L314.62,568.38 L316.50,569.38 Z" fill="#c2c2c2" stroke="none"/>
<path d="M292.75,569.38 L294.31,568.69 L295.88,568.00 L296.81,566.62 L297.75,565.25 L298.08,562.84 L298.22,561.10 L299.03,559.41 L299.25,557.75 L299.84,555.88 L299.76,553.80 L299.73,552.92 L300.13,551.14 L300.20,549.56 L300.50,547.75 L301.03,545.36 L301.34,543.76 L301.75,542.75 L301.67,540.63 L302.62,538.56 L302.49,537.23 L302.75,535.25 L302.84,534.20 L303.33,532.39 L303.38,530.00 L303.56,531.12 L303.66,533.47 L303.85,535.63 L304.00,536.50 L304.05,537.99 L304.62,540.05 L305.00,542.75 L305.55,544.98 L305.52,546.78 L305.88,548.38 L307.12,550.25 L308.38,552.75 L309.62,554.62 L310.88,557.12 L311.63,559.57 L312.12,561.50 L312.65,564.46 L313.38,565.88 L314.62,568.38 L316.50,569.38" fill="none" stroke="#222" stroke-width="0.95" stroke-linejoin="round"/>
<rect x="288.50" y="528.50" width="42.00" height="41.00" fill="none" stroke="#444" stroke-width="0.85"/>
<line x1="307.12" y1="560.50" x2="330.40" y2="560.50" stroke="#222" stroke-width="0.75"/>
<circle cx="307.12" cy="560.50" r="1.0" fill="#222"/>
<line x1="330.10" y1="559.50" x2="330.10" y2="561.50" stroke="#222" stroke-width="0.6"/>
<text x="320.25" y="556.64" font-size="6.3" text-anchor="middle" style="fill:#2a2a2a;stroke-width:0.08px">30</text>
<path d="M246.12,616.12 L247.69,615.25 L249.25,614.38 L249.92,612.39 L251.12,610.62 L251.25,609.11 L251.43,607.65 L252.22,604.75 L252.32,603.39 L252.75,601.25 L252.74,600.12 L253.27,597.87 L253.65,596.61 L253.37,593.97 L253.66,592.06 L253.92,591.05 L254.25,588.75 L254.22,586.72 L254.77,584.48 L255.47,583.22 L255.50,581.25 L256.26,579.85 L256.50,576.88 L256.57,578.36 L257.25,580.59 L257.38,582.50 L257.89,583.82 L257.44,585.71 L257.93,588.21 L258.07,589.61 L258.33,591.42 L258.43,593.27 L258.25,595.00 L258.19,596.63 L258.60,598.88 L258.99,599.39 L258.62,601.03 L259.05,602.86 L259.25,605.00 L259.32,607.09 L259.69,608.56 L260.50,610.62 L261.26,612.58 L262.38,613.75 L264.88,615.62 L267.38,616.12 Z" fill="#c2c2c2" stroke="none"/>
<path d="M246.12,616.12 L247.69,615.25 L249.25,614.38 L249.92,612.39 L251.12,610.62 L251.25,609.11 L251.43,607.65 L252.22,604.75 L252.32,603.39 L252.75,601.25 L252.74,600.12 L253.27,597.87 L253.65,596.61 L253.37,593.97 L253.66,592.06 L253.92,591.05 L254.25,588.75 L254.22,586.72 L254.77,584.48 L255.47,583.22 L255.50,581.25 L256.26,579.85 L256.50,576.88 L256.57,578.36 L257.25,580.59 L257.38,582.50 L257.89,583.82 L257.44,585.71 L257.93,588.21 L258.07,589.61 L258.33,591.42 L258.43,593.27 L258.25,595.00 L258.19,596.63 L258.60,598.88 L258.99,599.39 L258.62,601.03 L259.05,602.86 L259.25,605.00 L259.32,607.09 L259.69,608.56 L260.50,610.62 L261.26,612.58 L262.38,613.75 L264.88,615.62 L267.38,616.12" fill="none" stroke="#222" stroke-width="0.95" stroke-linejoin="round"/>
<rect x="241.50" y="574.50" width="42.00" height="42.00" fill="none" stroke="#444" stroke-width="0.85"/>
<line x1="260.50" y1="606.50" x2="283.70" y2="606.50" stroke="#222" stroke-width="0.75"/>
<circle cx="260.50" cy="606.50" r="1.0" fill="#222"/>
<line x1="283.40" y1="605.50" x2="283.40" y2="607.50" stroke="#222" stroke-width="0.6"/>
<text x="274.62" y="602.89" font-size="6.3" text-anchor="middle" style="fill:#2a2a2a;stroke-width:0.08px">6</text>
<path d="M291.50,616.20 L293.38,615.75 L295.25,615.25 L296.19,613.88 L297.12,612.50 L297.49,610.09 L297.66,608.35 L298.49,606.66 L298.75,605.00 L299.35,603.01 L299.27,600.82 L299.25,599.81 L299.65,597.91 L299.73,596.22 L300.15,593.57 L300.25,592.50 L300.47,590.17 L300.34,588.93 L301.24,587.06 L301.07,585.94 L301.18,584.87 L301.50,582.50 L302.08,581.39 L302.36,578.49 L302.75,577.25 L303.06,579.22 L303.42,581.51 L303.75,582.50 L303.76,583.99 L304.29,586.05 L304.62,588.75 L305.19,590.82 L305.18,592.46 L305.69,594.16 L305.88,595.62 L307.12,596.88 L308.00,595.62 L308.40,598.59 L309.00,600.00 L310.09,601.04 L310.50,603.12 L311.49,604.58 L312.12,606.88 L312.59,608.31 L312.84,609.72 L313.38,611.88 L314.19,613.44 L315.00,615.00 L317.75,616.20 Z" fill="#c2c2c2" stroke="none"/>
<path d="M291.50,616.20 L293.38,615.75 L295.25,615.25 L296.19,613.88 L297.12,612.50 L297.49,610.09 L297.66,608.35 L298.49,606.66 L298.75,605.00 L299.35,603.01 L299.27,600.82 L299.25,599.81 L299.65,597.91 L299.73,596.22 L300.15,593.57 L300.25,592.50 L300.47,590.17 L300.34,588.93 L301.24,587.06 L301.07,585.94 L301.18,584.87 L301.50,582.50 L302.08,581.39 L302.36,578.49 L302.75,577.25 L303.06,579.22 L303.42,581.51 L303.75,582.50 L303.76,583.99 L304.29,586.05 L304.62,588.75 L305.19,590.82 L305.18,592.46 L305.69,594.16 L305.88,595.62 L307.12,596.88 L308.00,595.62 L308.40,598.59 L309.00,600.00 L310.09,601.04 L310.50,603.12 L311.49,604.58 L312.12,606.88 L312.59,608.31 L312.84,609.72 L313.38,611.88 L314.19,613.44 L315.00,615.00 L317.75,616.20" fill="none" stroke="#222" stroke-width="0.95" stroke-linejoin="round"/>
<rect x="288.50" y="574.50" width="42.00" height="42.00" fill="none" stroke="#444" stroke-width="0.85"/>
<line x1="307.12" y1="606.50" x2="330.40" y2="606.50" stroke="#222" stroke-width="0.75"/>
<circle cx="307.12" cy="606.50" r="1.0" fill="#222"/>
<line x1="330.10" y1="605.50" x2="330.10" y2="607.50" stroke="#222" stroke-width="0.6"/>
<text x="320.25" y="602.89" font-size="6.3" text-anchor="middle" style="fill:#2a2a2a;stroke-width:0.08px">30</text>
<text x="241.20" y="630.00" font-size="10.6" textLength="26.30" lengthAdjust="spacingAndGlyphs">CD94</text>
<line x1="275.00" y1="626.30" x2="304.50" y2="626.30" stroke="#111" stroke-width="0.8"/>
<polygon points="303.50,622.30 312.00,626.30 303.50,630.30" fill="#000"/>
<text x="381.80" y="402.70" font-size="10.8" font-weight="bold" fill="#000">H</text>
<text x="391.80" y="540.50" font-size="9.2" textLength="121.70" lengthAdjust="spacingAndGlyphs" transform="rotate(-90 391.80 540.50)">% Inhibition of CD94 expression</text>
<text x="402.80" y="528.00" font-size="9.2" textLength="90.00" lengthAdjust="spacingAndGlyphs" transform="rotate(-90 402.80 528.00)">on <tspan font-style="italic">IL2</tspan><tspan font-size="5.2" dy="-3" style="stroke-width:0.12px">−/−</tspan><tspan dy="3"> 2C CD8</tspan><tspan font-size="6" dy="-3">+</tspan><tspan dy="3"> cells</tspan></text>
<line x1="418.50" y1="532.50" x2="421.50" y2="532.50" stroke="#111" stroke-width="0.7"/>
<text x="417.30" y="535.00" font-size="6.7" text-anchor="end" textLength="3.35" lengthAdjust="spacingAndGlyphs">0</text>
<line x1="418.50" y1="521.42" x2="421.50" y2="521.42" stroke="#111" stroke-width="0.7"/>
<text x="417.30" y="523.92" font-size="6.7" text-anchor="end" textLength="6.71" lengthAdjust="spacingAndGlyphs">10</text>
<line x1="418.50" y1="510.35" x2="421.50" y2="510.35" stroke="#111" stroke-width="0.7"/>
<text x="417.30" y="512.85" font-size="6.7" text-anchor="end" textLength="6.71" lengthAdjust="spacingAndGlyphs">20</text>
<line x1="418.50" y1="499.27" x2="421.50" y2="499.27" stroke="#111" stroke-width="0.7"/>
<text x="417.30" y="501.77" font-size="6.7" text-anchor="end" textLength="6.71" lengthAdjust="spacingAndGlyphs">30</text>
<line x1="418.50" y1="488.20" x2="421.50" y2="488.20" stroke="#111" stroke-width="0.7"/>
<text x="417.30" y="490.70" font-size="6.7" text-anchor="end" textLength="6.71" lengthAdjust="spacingAndGlyphs">40</text>
<line x1="418.50" y1="477.12" x2="421.50" y2="477.12" stroke="#111" stroke-width="0.7"/>
<text x="417.30" y="479.62" font-size="6.7" text-anchor="end" textLength="6.71" lengthAdjust="spacingAndGlyphs">50</text>
<line x1="418.50" y1="466.05" x2="421.50" y2="466.05" stroke="#111" stroke-width="0.7"/>
<text x="417.30" y="468.55" font-size="6.7" text-anchor="end" textLength="6.71" lengthAdjust="spacingAndGlyphs">60</text>
<line x1="418.50" y1="454.98" x2="421.50" y2="454.98" stroke="#111" stroke-width="0.7"/>
<text x="417.30" y="457.48" font-size="6.7" text-anchor="end" textLength="6.71" lengthAdjust="spacingAndGlyphs">70</text>
<line x1="418.50" y1="443.90" x2="421.50" y2="443.90" stroke="#111" stroke-width="0.7"/>
<text x="417.30" y="446.40" font-size="6.7" text-anchor="end" textLength="6.71" lengthAdjust="spacingAndGlyphs">80</text>
<line x1="418.50" y1="432.82" x2="421.50" y2="432.82" stroke="#111" stroke-width="0.7"/>
<text x="417.30" y="435.32" font-size="6.7" text-anchor="end" textLength="6.71" lengthAdjust="spacingAndGlyphs">90</text>
<line x1="418.50" y1="421.75" x2="421.50" y2="421.75" stroke="#111" stroke-width="0.7"/>
<text x="417.30" y="424.25" font-size="6.7" text-anchor="end" textLength="10.06" lengthAdjust="spacingAndGlyphs">100</text>
<line x1="430.25" y1="439.25" x2="430.25" y2="436.25" stroke="#111" stroke-width="0.7"/>
<line x1="426.93" y1="436.25" x2="433.57" y2="436.25" stroke="#111" stroke-width="0.7"/>
<rect x="427.10" y="439.25" width="6.30" height="93.25" fill="#fff" stroke="#111" stroke-width="0.7"/>
<line x1="437.12" y1="425.75" x2="437.12" y2="423.00" stroke="#111" stroke-width="0.7"/>
<line x1="433.92" y1="423.00" x2="440.33" y2="423.00" stroke="#111" stroke-width="0.7"/>
<rect x="434.10" y="425.75" width="6.05" height="106.75" fill="url(#hz2)" stroke="#111" stroke-width="0.7"/>
<line x1="444.00" y1="425.75" x2="444.00" y2="422.00" stroke="#111" stroke-width="0.7"/>
<line x1="440.68" y1="422.00" x2="447.32" y2="422.00" stroke="#111" stroke-width="0.7"/>
<rect x="440.50" y="425.75" width="7.00" height="106.75" fill="#000" stroke="none" stroke-width="0.75"/>
<line x1="460.62" y1="513.00" x2="460.62" y2="510.00" stroke="#111" stroke-width="0.7"/>
<line x1="457.66" y1="510.00" x2="463.59" y2="510.00" stroke="#111" stroke-width="0.7"/>
<rect x="457.85" y="513.00" width="5.55" height="19.50" fill="#fff" stroke="#111" stroke-width="0.7"/>
<line x1="467.12" y1="453.00" x2="467.12" y2="449.50" stroke="#111" stroke-width="0.7"/>
<line x1="463.92" y1="449.50" x2="470.33" y2="449.50" stroke="#111" stroke-width="0.7"/>
<rect x="464.10" y="453.00" width="6.05" height="79.50" fill="url(#hz2)" stroke="#111" stroke-width="0.7"/>
<line x1="474.25" y1="447.00" x2="474.25" y2="442.50" stroke="#111" stroke-width="0.7"/>
<line x1="470.69" y1="442.50" x2="477.81" y2="442.50" stroke="#111" stroke-width="0.7"/>
<rect x="470.50" y="447.00" width="7.50" height="85.50" fill="#000" stroke="none" stroke-width="0.75"/>
<line x1="497.88" y1="499.25" x2="497.88" y2="497.00" stroke="#111" stroke-width="0.7"/>
<line x1="494.67" y1="497.00" x2="501.08" y2="497.00" stroke="#111" stroke-width="0.7"/>
<rect x="494.85" y="499.25" width="6.05" height="33.25" fill="url(#hz2)" stroke="#111" stroke-width="0.7"/>
<line x1="504.62" y1="500.00" x2="504.62" y2="495.50" stroke="#111" stroke-width="0.7"/>
<line x1="501.42" y1="495.50" x2="507.83" y2="495.50" stroke="#111" stroke-width="0.7"/>
<rect x="501.25" y="500.00" width="6.75" height="32.50" fill="#000" stroke="none" stroke-width="0.75"/>
<line x1="421.50" y1="421.75" x2="421.50" y2="532.50" stroke="#000" stroke-width="0.95"/>
<line x1="421.50" y1="532.50" x2="513.00" y2="532.50" stroke="#000" stroke-width="0.95"/>
<line x1="421.50" y1="532.50" x2="421.50" y2="534.70" stroke="#111" stroke-width="0.7"/>
<line x1="451.80" y1="532.50" x2="451.80" y2="534.70" stroke="#111" stroke-width="0.7"/>
<line x1="482.50" y1="532.50" x2="482.50" y2="534.70" stroke="#111" stroke-width="0.7"/>
<line x1="513.00" y1="532.50" x2="513.00" y2="534.70" stroke="#111" stroke-width="0.7"/>
<text x="432.50" y="543.80" font-size="6.8">10<tspan font-size="4.5" dy="-2.5">−4</tspan></text>
<text x="463.00" y="543.80" font-size="6.8">10<tspan font-size="4.5" dy="-2.5">−2</tspan></text>
<text x="493.20" y="543.80" font-size="6.8">10</text>
<text x="437.50" y="556.30" font-size="9" textLength="53.75" lengthAdjust="spacingAndGlyphs">flyL<tspan font-size="5.4" dy="-2.3">d</tspan><tspan dy="2.3">.B7.ICAM</tspan></text>
<text x="447.00" y="566.00" font-size="9" textLength="37.50" lengthAdjust="spacingAndGlyphs">-QL9 (µM)</text>
<text x="498.10" y="426.00" font-size="6.7" textLength="10.60" lengthAdjust="spacingAndGlyphs">IL-2</text>
<text x="493.80" y="432.30" font-size="6.7" textLength="19.80" lengthAdjust="spacingAndGlyphs">(ng/ml)</text>
<line x1="493.80" y1="433.30" x2="513.60" y2="433.30" stroke="#111" stroke-width="0.6"/>
<rect x="494.10" y="438.40" width="4.90" height="4.90" fill="#fff" stroke="#111" stroke-width="0.8"/>
<rect x="494.10" y="448.20" width="4.90" height="4.90" fill="url(#hz2)" stroke="#111" stroke-width="0.8"/>
<rect x="493.80" y="457.20" width="5.60" height="5.40" fill="#000" stroke="none" stroke-width="0.75"/>
<text x="503.00" y="443.30" font-size="6.8">1</text>
<text x="502.50" y="453.10" font-size="6.8">10</text>
<text x="502.50" y="462.70" font-size="6.8">100</text>
</svg>
</body>
</html>
